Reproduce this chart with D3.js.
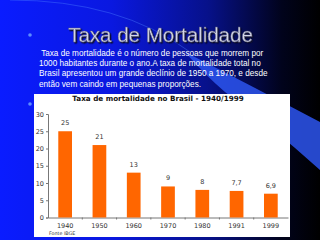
<!DOCTYPE html>
<html>
<head>
<meta charset="utf-8">
<script src="https://cdn.jsdelivr.net/npm/d3@7"></script>
<style>
  body { margin: 0; padding: 0; background: #000; }
  svg { display: block; }
</style>
</head>
<body>
<div id="viz_container"></div>
<script>
// chart data
const years = ["1940", "1950", "1960", "1970", "1980", "1991", "1999"];
const rates = [25, 21, 13, 9, 8, 7.7, 6.9];
const yTicks = [0, 5, 10, 15, 20, 25, 30];
const bodyLines = [
  " Taxa de mortalidade é o número de pessoas que morrem por",
  "1000 habitantes durante o ano.A taxa de mortalidade total no",
  "Brasil apresentou um grande declínio de 1950 a 1970, e desde",
  "então vem caindo em pequenas proporções."
];

const width = 320, height = 240;
const svg = d3.select("#viz_container")
  .append("svg")
  .attr("width", width)
  .attr("height", height);

// background gradient
const defs = svg.append("defs");
const bg = defs.append("linearGradient")
  .attr("id", "bg")
  .attr("x1", "0").attr("x2", "1").attr("y1", "0").attr("y2", "0");
bg.append("stop").attr("offset", "0%").attr("stop-color", "#0a1cff");
bg.append("stop").attr("offset", "35%").attr("stop-color", "#0a18e0");
bg.append("stop").attr("offset", "65%").attr("stop-color", "#07118a");
bg.append("stop").attr("offset", "88%").attr("stop-color", "#01031c");
bg.append("stop").attr("offset", "100%").attr("stop-color", "#000000");

svg.append("rect")
  .attr("width", width).attr("height", height)
  .attr("fill", "url(#bg)");

// title shadow filter
const shadow = defs.append("filter").attr("id", "shadow");
shadow.append("feDropShadow")
  .attr("dx", 1.3).attr("dy", 1.3)
  .attr("stdDeviation", 0.3)
  .attr("flood-color", "#0a0a25");

// light swoosh band and arc
svg.append("path")
  .attr("d", "M185,52 Q250,85 320,122 L320,170 Q270,125 225,92 Q205,75 185,52 Z")
  .attr("fill", "#2d55ee")
  .attr("opacity", 0.85);
svg.append("path")
  .attr("d", "M10,0 Q120,0 190,52")
  .attr("fill", "none")
  .attr("stroke", "#4a7cff")
  .attr("stroke-width", 0.7)
  .attr("opacity", 0.6);

// slide title
svg.append("text")
  .attr("x", 160.5).attr("y", 42)
  .attr("text-anchor", "middle")
  .attr("filter", "url(#shadow)")
  .style("font-family", "Liberation Sans, Arial, sans-serif")
  .style("font-size", "20.5px")
  .style("fill", "#d4d6e6")
  .style("stroke", "#55577a")
  .style("stroke-width", 0.4)
  .text("Taxa de Mortalidade");

// bullets
svg.selectAll(".bullet")
  .data([35, 104])
  .join("circle")
  .attr("class", "bullet")
  .attr("cx", 30).attr("cy", d => d)
  .attr("r", 1.8)
  .attr("fill", "#5d8cff");

// body text
svg.append("g")
  .selectAll("text")
  .data(bodyLines)
  .join("text")
  .attr("x", 39)
  .attr("y", (d, i) => 56 + i * 10 + (i === 3 ? 0.8 : 0))
  .attr("xml:space", "preserve")
  .style("font-family", "Liberation Sans, Arial, sans-serif")
  .style("font-size", "8.2px")
  .style("fill", "#ffffff")
  .style("white-space", "pre")
  .text(d => d);

// chart panel
svg.append("rect")
  .attr("x", 34).attr("y", 94)
  .attr("width", 256).attr("height", 143)
  .attr("fill", "#ffffff");

svg.append("text")
  .attr("x", 158).attr("y", 101)
  .attr("text-anchor", "middle")
  .style("font-family", "DejaVu Sans, Verdana, sans-serif")
  .style("font-weight", "bold")
  .style("font-size", "7.2px")
  .style("fill", "#111111")
  .text("Taxa de mortalidade no Brasil - 1940/1999");

// scales
const x = d3.scaleBand()
  .domain(years)
  .range([48, 288])
  .paddingInner(0.6)
  .paddingOuter(0.3);
const y = d3.scaleLinear()
  .domain([0, 30])
  .range([217.5, 114]);

const axisColor = "#777777";
const labelFont = "DejaVu Sans, Verdana, sans-serif";

// y axis
const yAxis = svg.append("g")
  .attr("transform", "translate(48,0)")
  .call(d3.axisLeft(y).tickValues(yTicks).tickSize(2).tickPadding(2));
yAxis.select(".domain").attr("stroke", axisColor);
yAxis.selectAll(".tick line").attr("stroke", axisColor);
yAxis.selectAll("text")
  .style("font-family", labelFont)
  .style("font-size", "6.5px")
  .style("fill", "#333333");

// x axis: ticks between categories
const xAxis = svg.append("g")
  .attr("transform", "translate(0," + y(0) + ")")
  .call(d3.axisBottom(x).tickSize(0).tickPadding(6));
xAxis.select(".domain").attr("stroke", axisColor);
xAxis.selectAll("text")
  .style("font-family", labelFont)
  .style("font-size", "6.5px")
  .style("fill", "#333333");
const step = x.step();
const bounds = d3.range(1, years.length).map(i => x(years[i]) - (step - x.bandwidth()) / 2);
xAxis.selectAll(".sep")
  .data(bounds)
  .join("line")
  .attr("class", "sep")
  .attr("x1", d => d).attr("x2", d => d)
  .attr("y1", 0).attr("y2", 2)
  .attr("stroke", axisColor);

// bars
svg.append("g")
  .selectAll("rect")
  .data(rates)
  .join("rect")
  .attr("x", (d, i) => x(years[i]))
  .attr("y", d => y(d))
  .attr("width", x.bandwidth())
  .attr("height", d => y(0) - y(d))
  .attr("fill", "#ff6600");

// value labels (Portuguese decimal comma)
const pt = d3.formatLocale({ decimal: ",", thousands: ".", grouping: [3], currency: ["R$", ""] });
const fmt = pt.format("~g");
svg.append("g")
  .selectAll("text")
  .data(rates)
  .join("text")
  .attr("x", (d, i) => x(years[i]) + x.bandwidth() / 2)
  .attr("y", d => y(d) - 6)
  .attr("text-anchor", "middle")
  .style("font-family", labelFont)
  .style("font-size", "6.5px")
  .style("fill", "#333333")
  .text(d => fmt(d));

// source note
svg.append("text")
  .attr("x", 49).attr("y", 235)
  .style("font-family", labelFont)
  .style("font-size", "4.8px")
  .style("fill", "#333333")
  .text("Fonte IBGE");
</script>
</body>
</html>
